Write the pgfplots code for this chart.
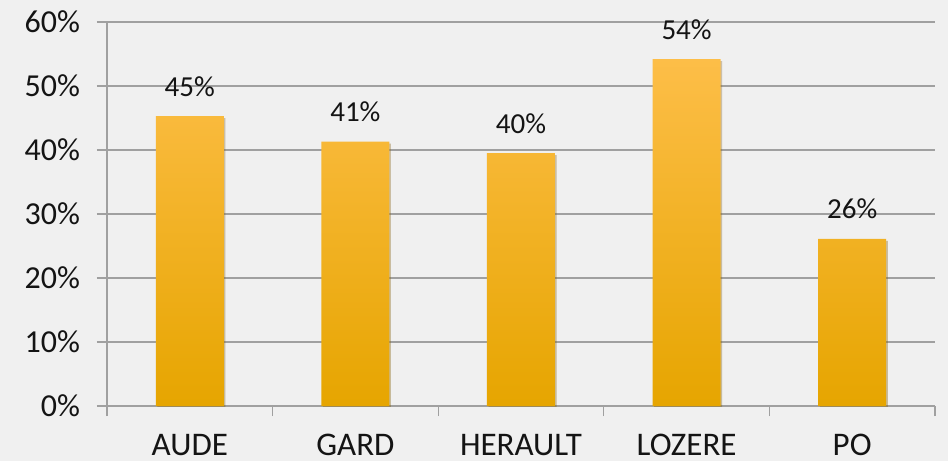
\documentclass[border=0pt]{standalone}
\usepackage{pgfplots}
\pgfplotsset{compat=1.18}
\usepackage{fontspec}
\setmainfont{Carlito}
\usetikzlibrary{shadows}
\definecolor{bg}{HTML}{F0F0F0}
\definecolor{gridc}{HTML}{A0A0A0}
\definecolor{bartop}{HTML}{FDBE48}
\definecolor{barmid}{HTML}{FFBA00}
\definecolor{barbot}{HTML}{E6A500}
\definecolor{txt}{HTML}{141414}
\begin{document}
\begin{tikzpicture}
\fill[bg] (-53.5pt,-27.5pt) rectangle (420.5pt,203pt);
\useasboundingbox (-53.5pt,-27.5pt) rectangle (420.5pt,203pt);
\begin{axis}[
  scale only axis, width=414pt, height=192pt,
  at={(0,0)}, anchor=south west,
  xmin=-0.5, xmax=4.5, ymin=0, ymax=60,
  ytick={0,10,...,60},
  yticklabel={\pgfmathprintnumber{\tick}\%},
  /pgf/number format/assume math mode=true,
  xtick={-0.5,0.5,...,4.5}, xticklabels={},
  extra x ticks={0,1,2,3,4},
  extra x tick labels={AUDE,GARD,HERAULT,LOZERE,PO},
  extra x tick style={major tick length=0pt, grid=none,
    xticklabel style={anchor=base, inner sep=0pt, yshift=-24.5pt, font=\fontsize{16.5}{19}\selectfont}},
  ymajorgrids, grid style={gridc, line width=0.6pt},
  axis x line*=bottom, axis y line*=left,
  axis line style={-, gridc, line width=0.6pt},
  tick style={gridc, line width=0.6pt},
  major tick length=5pt,
  tick align=outside,
  tick label style={font=\fontsize{16}{19}\selectfont, text=txt},
  yticklabel style={xshift=-5pt},
  point meta=explicit symbolic,
  nodes near coords,
  nodes near coords style={font=\fontsize{14.5}{17}\selectfont, text=txt, anchor=base, yshift=10pt},
]
\addplot[ybar, bar width=34pt, draw=none, shade, top color=bartop, middle color=barmid, bottom color=barbot,
  drop shadow={shadow xshift=0.8pt, shadow yshift=-1pt, opacity=0.2, fill=black}]
  coordinates {(0,45.3) [45\%] (1,41.3) [41\%] (2,39.5) [40\%] (3,54.2) [54\%] (4,26.1) [26\%]};
\end{axis}
\end{tikzpicture}
\end{document}
